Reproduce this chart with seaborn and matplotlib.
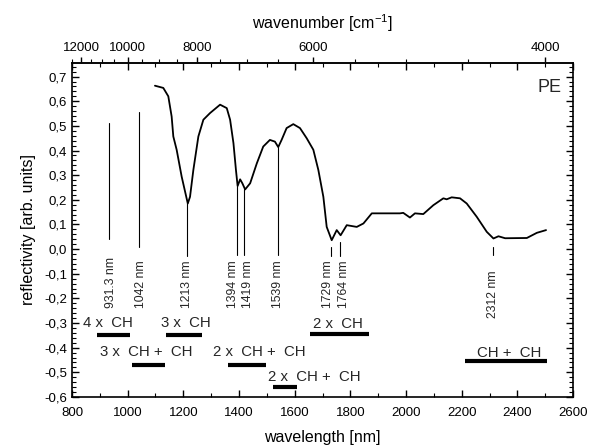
import numpy as np
import matplotlib
matplotlib.use("Agg")
import matplotlib.pyplot as plt
import seaborn as sns
from matplotlib.ticker import FuncFormatter, MultipleLocator

# Reflectivity spectrum of PE
wavelength = [1098, 1128, 1146, 1158, 1164, 1176, 1194, 1216, 1224, 1236, 1254, 1272,
              1296, 1332, 1356, 1368, 1380, 1389, 1395, 1404, 1412, 1422, 1440, 1464,
              1487, 1511, 1529, 1541, 1553, 1571, 1595, 1619, 1643, 1667, 1685, 1703,
              1715, 1733, 1751, 1765, 1787, 1823, 1847, 1877, 1978, 1990, 2014, 2032,
              2062, 2098, 2134, 2146, 2164, 2194, 2218, 2254, 2290, 2314, 2332, 2356,
              2434, 2470, 2503]
reflectivity = [0.663, 0.654, 0.620, 0.538, 0.457, 0.403, 0.294, 0.185, 0.212, 0.321,
                0.457, 0.525, 0.552, 0.586, 0.572, 0.525, 0.430, 0.321, 0.256, 0.283,
                0.267, 0.242, 0.267, 0.348, 0.416, 0.443, 0.436, 0.414, 0.443, 0.491,
                0.507, 0.491, 0.450, 0.403, 0.321, 0.212, 0.090, 0.036, 0.077, 0.056,
                0.097, 0.090, 0.104, 0.145, 0.145, 0.147, 0.128, 0.145, 0.142, 0.178,
                0.206, 0.202, 0.210, 0.206, 0.185, 0.131, 0.070, 0.043, 0.052, 0.044,
                0.045, 0.066, 0.077]

# Marked band positions
peak_nm = [931.3, 1042, 1213, 1394, 1419, 1539, 1729, 1764, 2312]
peak_labels = ['931.3 nm', '1042 nm', '1213 nm', '1394 nm', '1419 nm',
               '1539 nm', '1729 nm', '1764 nm', '2312 nm']
label_x = [940, 1048, 1213, 1378, 1432, 1539, 1720, 1778, 2312]
line_top = [0.51, 0.555, 0.185, 0.255, 0.242, 0.414, 0.007, 0.028, 0.007]
line_bottom = [0.04, 0.007, -0.03, -0.025, -0.025, -0.025, -0.03, -0.03, -0.025]
label_base = [-0.24, -0.24, -0.24, -0.24, -0.24, -0.24, -0.24, -0.24, -0.28]

# Overtone / combination band regions
band_text = ['4 x  CH', '3 x  CH', '3 x  CH +  CH', '2 x  CH +  CH',
             '2 x  CH +  CH', '2 x  CH', 'CH +  CH']
text_x = [840, 1120, 900, 1308, 1503, 1665, 2254]
text_y = [-0.298, -0.298, -0.419, -0.419, -0.521, -0.304, -0.423]
bar_start = [890, 1137, 1017, 1359, 1523, 1655, 2212]
bar_end = [1008, 1266, 1134, 1496, 1607, 1867, 2505]
bar_y = [-0.347, -0.347, -0.47, -0.47, -0.559, -0.345, -0.456]

sns.set_theme(style='ticks')
plt.rcParams['font.family'] = ['Liberation Sans', 'DejaVu Sans']
plt.rcParams['mathtext.fontset'] = 'custom'
plt.rcParams['mathtext.rm'] = 'Liberation Sans'

fig, ax = plt.subplots(figsize=(5.92, 4.47), dpi=100)
fig.subplots_adjust(left=0.1216, right=0.968, bottom=0.112, top=0.859)

sns.lineplot(x=wavelength, y=reflectivity, color='black', lw=1.3, ax=ax)

for x, top, bot in zip(peak_nm, line_top, line_bottom):
    ax.plot([x, x], [bot, top], color='black', lw=0.8)
for x, lab, base in zip(label_x, peak_labels, label_base):
    ax.text(x, base, lab, rotation=90, ha='center', va='bottom', fontsize=8.8)

for t, tx, ty in zip(band_text, text_x, text_y):
    ax.text(tx, ty, t, ha='left', va='center', fontsize=10.8)
for x0, x1, y in zip(bar_start, bar_end, bar_y):
    ax.plot([x0, x1], [y, y], color='black', lw=3, solid_capstyle='butt')

ax.text(2559, 0.655, 'PE', ha='right', va='center', fontsize=13)

ax.set_xlim(800, 2600)
ax.set_ylim(-0.6, 0.755)
ax.xaxis.set_major_locator(MultipleLocator(200))
ax.xaxis.set_minor_locator(MultipleLocator(100))
ax.yaxis.set_major_locator(MultipleLocator(0.1))
ax.yaxis.set_minor_locator(MultipleLocator(0.02))
ax.yaxis.set_major_formatter(FuncFormatter(
    lambda v, p: f'{round(v, 1) + 0.0:.1f}'.replace('.', ',')))
ax.tick_params(which='both', direction='in', top=True, right=True,
               labelsize=9.5, color='black', labelcolor='black')
ax.tick_params(axis='x', pad=7)
ax.tick_params(which='major', length=5, width=1)
ax.tick_params(which='minor', length=3, width=0.8)
ax.set_xlabel('wavelength [nm]', fontsize=11.5, color='black', labelpad=8)
ax.set_ylabel('reflectivity [arb. units]', fontsize=11.5, color='black', labelpad=6)
for s in ax.spines.values():
    s.set_color('black')
    s.set_linewidth(1.2)


def nm_to_wn(x):
    x = np.asarray(x, dtype=float)
    with np.errstate(divide='ignore', invalid='ignore'):
        return 1e7 / x


sec = ax.secondary_xaxis('top', functions=(nm_to_wn, nm_to_wn))
sec.set_xticks([12000, 10000, 8000, 6000, 4000])
sec.set_xticks(np.arange(4000, 12501, 500), minor=True)
sec.set_xticklabels(['12000', '10000', '8000', '6000', '4000'])
sec.tick_params(which='both', direction='out', labelsize=9.5, color='black',
                labelcolor='black', pad=2.5)
sec.tick_params(which='major', length=4, width=1)
sec.tick_params(which='minor', length=3, width=0.8)
sec.set_xlabel('wavenumber [cm$^{-1}$]', fontsize=11.5, color='black', labelpad=9)
sec.spines['top'].set_linewidth(1.2)

fig.savefig('out.png', dpi=100, facecolor='white')
